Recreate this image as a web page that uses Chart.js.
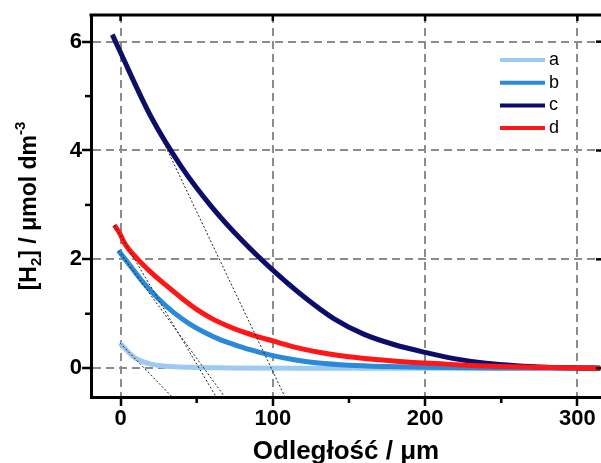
<!DOCTYPE html>
<html>
<head>
<meta charset="utf-8">
<script src="https://cdn.jsdelivr.net/npm/chart.js@4"></script>
<style>
  html, body { margin: 0; padding: 0; background: #fff; overflow: hidden; }
  #wrap { width: 601px; height: 463px; position: relative; }
</style>
</head>
<body>
<div id="wrap"><canvas id="h2Chart"></canvas></div>
<script>
// profiles: x = distance (µm), y = [H2] (µmol dm-3)
const aX = [-0.3, 3, 6, 10, 15, 20, 30, 45, 70, 120, 315];
const aY = [0.46, 0.36, 0.27, 0.18, 0.115, 0.075, 0.035, 0.015, 0.005, 0.0, 0.0];

const bX = [-1.4, 5, 15, 25, 35, 45, 55, 65, 75, 85, 100, 115, 130, 150, 175, 200, 250, 315];
const bY = [2.16, 1.93, 1.57, 1.27, 1.02, 0.82, 0.66, 0.53, 0.43, 0.34, 0.23, 0.15, 0.095, 0.055, 0.03, 0.015, 0.004, 0.0];

const cX = [-5.4, 0, 20, 40, 60, 80, 100, 120, 140, 160, 180, 200, 220, 240, 260, 280, 300, 315];
const cY = [6.13, 5.80, 4.62, 3.70, 2.96, 2.34, 1.80, 1.32, 0.91, 0.62, 0.43, 0.29, 0.17, 0.09, 0.045, 0.018, 0.005, 0.0];

const dX = [-4.1, -1, 3, 10, 20, 30, 40, 50, 60, 70, 80, 90, 100, 110, 120, 135, 150, 170, 190, 210, 230, 250, 280, 315];
const dY = [2.63, 2.50, 2.28, 2.04, 1.76, 1.52, 1.29, 1.08, 0.91, 0.78, 0.67, 0.58, 0.50, 0.42, 0.35, 0.27, 0.21, 0.155, 0.11, 0.08, 0.05, 0.03, 0.01, 0.0];

// initial-slope tangents (dotted)
const tanAX = [-0.3, 33.9];  const tanAY = [0.46, -0.53];
const tanBX = [-1.4, 68.5];  const tanBY = [2.16, -0.53];
const tanCX = [-5.4, 108];   const tanCY = [6.13, -0.53];
const tanDX = [-4.1, 62.8];  const tanDY = [2.63, -0.53];

const xTicks = [0, 50, 100, 150, 200, 250, 300];
const xLabels = [0, 100, 200, 300];
const yTicks = [0, 1, 2, 3, 4, 5, 6];
const yLabels = [0, 2, 4, 6];

const pts = (xs, ys) => xs.map((x, i) => ({ x, y: ys[i] }));
const isMajor = (list, c) => list.includes(c.tick && c.tick.value);

const FONT = "'Liberation Sans', Arial, sans-serif";
Chart.defaults.font.family = FONT;

function curve(label, xs, ys, color, order) {
  return { label, data: pts(xs, ys), borderColor: color, borderWidth: 5,
    cubicInterpolationMode: 'monotone', order };
}
function tangent(xs, ys) {
  return { label: '', tangent: true, data: pts(xs, ys), borderColor: '#222',
    borderWidth: 1, borderDash: [2, 2], order: -1 };
}

// legend, y title, top frame, short minor ticks and inner ticks
const decorations = {
  id: 'decorations',
  afterDraw(chart) {
    const { ctx, chartArea: ca, scales } = chart;
    ctx.save();
    ctx.strokeStyle = '#000';
    ctx.lineWidth = 3;
    ctx.beginPath();
    ctx.moveTo(ca.left - 1.5, ca.top);
    ctx.lineTo(ca.right, ca.top);
    ctx.stroke();

    ctx.lineWidth = 2.5;
    xLabels.forEach(v => {
      const px = scales.x.getPixelForValue(v);
      ctx.beginPath(); ctx.moveTo(px, ca.top); ctx.lineTo(px, ca.top + 6); ctx.stroke();
    });
    yLabels.forEach(v => {
      const py = scales.y.getPixelForValue(v);
      ctx.beginPath(); ctx.moveTo(ca.right, py); ctx.lineTo(ca.right - 5, py); ctx.stroke();
    });
    xTicks.filter(v => !xLabels.includes(v)).forEach(v => {
      const px = scales.x.getPixelForValue(v);
      ctx.beginPath(); ctx.moveTo(px, ca.bottom); ctx.lineTo(px, ca.bottom + 6); ctx.stroke();
    });
    yTicks.filter(v => !yLabels.includes(v)).forEach(v => {
      const py = scales.y.getPixelForValue(v);
      ctx.beginPath(); ctx.moveTo(ca.left, py); ctx.lineTo(ca.left - 6, py); ctx.stroke();
    });

    // legend
    const lx = ca.right - 101, ly = ca.top + 45;
    ctx.font = '18px ' + FONT;
    ctx.textBaseline = 'middle';
    ctx.fillStyle = '#000';
    chart.data.datasets.filter(d => !d.tangent).forEach((d, i) => {
      const y = ly + i * 22.7;
      ctx.strokeStyle = d.borderColor;
      ctx.lineWidth = 4;
      ctx.beginPath(); ctx.moveTo(lx, y); ctx.lineTo(lx + 45, y); ctx.stroke();
      ctx.fillText(d.label, lx + 49, y);
    });

    // y title with sub/superscript
    const big = 'bold 23px ' + FONT, small = 'bold 15px ' + FONT;
    const parts = [
      { t: '[H', f: big, dy: 0 },
      { t: '2', f: small, dy: 5 },
      { t: '] / μmol dm', f: big, dy: 0 },
      { t: '-3', f: small, dy: -11 }
    ];
    let total = 0;
    parts.forEach(p => { ctx.font = p.f; p.w = ctx.measureText(p.t).width; total += p.w; });
    ctx.translate(36, 206);
    ctx.rotate(-Math.PI / 2);
    ctx.textBaseline = 'alphabetic';
    ctx.textAlign = 'left';
    let x = -total / 2;
    parts.forEach(p => { ctx.font = p.f; ctx.fillText(p.t, x, p.dy); x += p.w; });
    ctx.restore();
  }
};

new Chart(document.getElementById('h2Chart'), {
  type: 'line',
  data: {
    datasets: [
      curve('a', aX, aY, '#9dc9f3', 3),
      curve('b', bX, bY, '#2a8ad9', 2),
      curve('c', cX, cY, '#0c0c6c', 1),
      curve('d', dX, dY, '#ff1616', 0),
      tangent(tanAX, tanAY),
      tangent(tanBX, tanBY),
      tangent(tanCX, tanCY),
      tangent(tanDX, tanDY)
    ]
  },
  options: {
    responsive: true,
    maintainAspectRatio: false,
    animation: false,
    layout: { padding: { top: 15, right: 0, bottom: 0, left: 0 } },
    elements: { point: { radius: 0 } },
    plugins: { legend: { display: false }, tooltip: { enabled: false } },
    scales: {
      x: {
        type: 'linear', min: -19.4, max: 315.5,
        afterBuildTicks: s => { s.ticks = xTicks.map(v => ({ value: v })); },
        afterFit: s => { s.height = 66; },
        grid: {
          color: c => isMajor(xLabels, c) ? '#8c8c8c' : 'rgba(0,0,0,0)',
          tickColor: c => isMajor(xLabels, c) ? '#000' : 'rgba(0,0,0,0)',
          lineWidth: 2, tickWidth: 2.5, tickLength: 9
        },
        border: { color: '#000', width: 3, dash: [8, 5] },
        ticks: {
          color: '#000', font: { size: 22, weight: 'bold' }, padding: 0,
          autoSkip: false, maxRotation: 0,
          callback: v => xLabels.includes(v) ? String(v) : ''
        },
        title: {
          display: true, text: 'Odległość / μm', color: '#000',
          font: { size: 26, weight: 'bold' }, padding: { top: 0, bottom: -4 }
        }
      },
      y: {
        type: 'linear', min: -0.53, max: 6.49,
        afterBuildTicks: s => { s.ticks = yTicks.map(v => ({ value: v })); },
        afterFit: s => { s.width = 91; },
        grid: {
          color: c => isMajor(yLabels, c) ? '#8c8c8c' : 'rgba(0,0,0,0)',
          tickColor: c => isMajor(yLabels, c) ? '#000' : 'rgba(0,0,0,0)',
          lineWidth: 2, tickWidth: 2.5, tickLength: 9
        },
        border: { color: '#000', width: 3, dash: [8, 5] },
        ticks: {
          color: '#000', font: { size: 22, weight: 'bold' }, padding: 0,
          autoSkip: false,
          callback: v => yLabels.includes(v) ? String(v) : ''
        }
      }
    }
  },
  plugins: [decorations]
});
</script>
</body>
</html>
